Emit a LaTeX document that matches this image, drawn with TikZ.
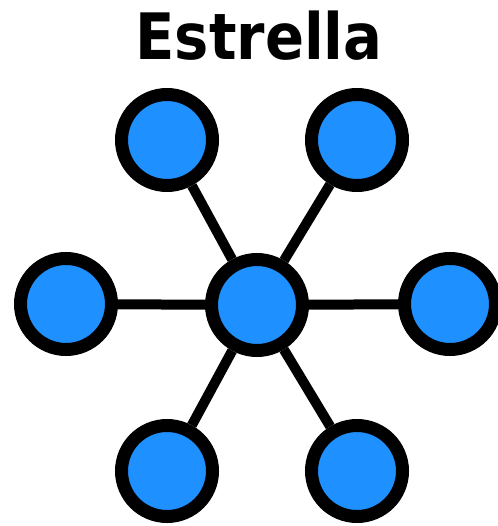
\documentclass[tikz,border=0pt]{standalone}
\usepackage{fontspec}
\newfontfamily\titlefont{DejaVu Sans}
\usetikzlibrary{positioning}

\begin{document}
\begin{tikzpicture}[
    x=1pt, y=-1pt,
    nodo/.style={circle, draw=black, fill=nodoazul, line width=13pt,
                 minimum size=91pt, inner sep=0pt},
    enlace/.style={line width=10pt}
]
\definecolor{nodoazul}{RGB}{30,144,255}

% Bounding box
\useasboundingbox[fill=white] (0,0) rectangle (497,526);

% Title
\node[font=\titlefont\bfseries\fontsize{64}{64}\selectfont, xscale=0.9] (titulo) at (259,36) {Estrella};

% Central node
\node[nodo] (centro) at (257,305) {};

% Outer nodes
\node[nodo] (arribaizq) at (167,140) {};
\node[nodo] (arribader) at (357,140) {};
\node[nodo] (izq) at (66,304) {};
\node[nodo] (der) at (450,304) {};
\node[nodo] (abajoizq) at (167,471) {};
\node[nodo] (abajoder) at (357,471) {};

% Links
\foreach \n in {arribaizq, arribader, izq, der, abajoizq, abajoder}
    \draw[enlace] (centro) -- (\n);

\end{tikzpicture}
\end{document}
